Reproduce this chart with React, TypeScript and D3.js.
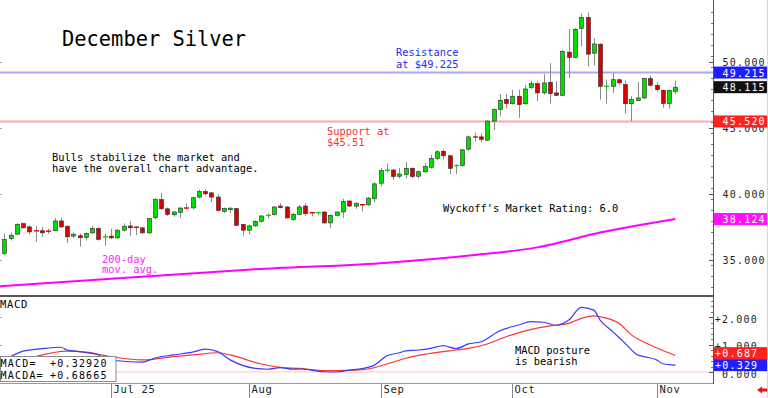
import { useEffect, useRef } from 'react'
import * as d3 from 'd3'

const W = 768
const H = 398
const PLOT_RIGHT = 713
const PRICE_BOTTOM = 296
const MACD_BOTTOM = 383
const FONT = '"DejaVu Sans Mono", monospace'

// daily bars, Jun 5 .. Nov 6 (108 trading days)
const opens = [
  35.53, 36.65, 36.98, 37.78, 37.53, 37.25, 37.24, 37.22, 37.24, 37.98,
  37.58, 36.83, 36.86, 36.73, 37.08, 37.4, 36.73, 36.83, 36.7, 37.28,
  37.6, 37.52, 37.46, 37.08, 38.23, 39.6, 38.9, 38.45, 38.63, 38.97,
  38.97, 39.79, 40.21, 40.11, 39.79, 38.71, 38.83, 38.91, 37.71, 37.28,
  37.61, 37.96, 38.36, 38.46, 39.11, 39.04, 38.1, 38.48, 39.11, 38.62,
  38.6, 38.66, 37.83, 38.41, 38.66, 39.49, 39.1, 39.22, 39.2, 39.66,
  40.84, 41.77, 41.84, 41.37, 41.49, 41.97, 41.37, 41.71, 42.05, 42.72,
  43.25, 42.92, 42.12, 42.17, 43.42, 44.35, 44.35, 44.1, 45.55, 46.43,
  47.18, 46.86, 47.43, 46.86, 48.1, 48.38, 47.68, 48.48, 47.68, 47.5,
  50.77, 50.36, 52.57, 53.4, 50.69, 51.37, 48.14, 48.18, 48.68, 48.31,
  46.86, 47.1, 47.3, 48.76, 48.26, 47.88, 46.88, 47.8,
]
const highs = [
  37.03, 37.1, 37.8, 37.8, 37.65, 37.6, 37.53, 37.4, 38.2, 38.2,
  37.65, 37.1, 37.03, 37.1, 37.6, 37.5, 37.03, 37.4, 37.35, 37.8,
  37.95, 37.6, 37.5, 38.2, 39.7, 40.1, 39.0, 38.7, 39.0, 39.3,
  39.8, 40.35, 40.41, 40.16, 40.0, 39.0, 39.03, 38.97, 37.76, 37.7,
  38.03, 38.4, 38.54, 39.1, 39.33, 39.1, 38.6, 39.2, 39.3, 38.66,
  38.66, 38.7, 38.46, 38.7, 39.66, 39.55, 39.4, 39.27, 39.8, 40.92,
  42.0, 42.35, 41.9, 42.0, 42.45, 42.04, 41.8, 42.35, 43.0, 43.35,
  43.4, 42.98, 42.3, 43.4, 44.45, 44.67, 44.6, 45.6, 46.5, 47.6,
  47.6, 47.9, 47.93, 48.3, 48.6, 48.56, 49.1, 49.94, 48.57, 50.94,
  52.52, 52.6, 53.7, 53.77, 51.82, 51.44, 48.68, 49.19, 48.76, 48.61,
  47.43, 48.5, 48.8, 49.0, 48.5, 47.93, 47.93, 48.6,
]
const lows = [
  35.4, 36.5, 36.9, 37.4, 36.98, 36.4, 36.78, 37.0, 37.2, 37.45,
  36.33, 36.7, 36.03, 36.5, 36.98, 36.5, 36.1, 36.6, 36.6, 37.2,
  36.83, 36.9, 37.0, 37.0, 38.1, 38.83, 38.35, 38.3, 38.23, 38.85,
  38.85, 39.7, 39.9, 39.41, 38.7, 38.6, 38.57, 37.58, 36.86, 36.96,
  37.5, 37.85, 38.16, 38.4, 38.93, 38.16, 38.0, 38.4, 38.35, 38.33,
  38.4, 37.78, 37.46, 38.33, 38.21, 39.03, 38.9, 38.7, 39.15, 39.41,
  40.6, 41.67, 41.1, 41.2, 41.2, 41.2, 41.2, 41.6, 41.95, 42.57,
  42.65, 41.54, 41.54, 42.1, 43.3, 44.0, 43.95, 44.05, 44.85, 45.92,
  46.5, 46.8, 45.8, 46.8, 48.0, 47.05, 47.55, 46.88, 47.45, 47.43,
  48.81, 50.3, 51.19, 49.68, 49.76, 47.18, 46.86, 47.68, 48.3, 46.1,
  45.55, 47.05, 47.18, 48.18, 47.76, 46.56, 46.5, 47.6,
]
const closes = [
  36.58, 36.9, 37.73, 37.46, 37.15, 37.22, 37.08, 37.2, 37.98, 37.53,
  36.78, 36.98, 36.71, 37.03, 37.4, 36.58, 36.83, 36.7, 37.28, 37.58,
  37.46, 37.48, 37.08, 38.16, 39.6, 38.9, 38.48, 38.66, 38.96, 38.95,
  39.74, 40.21, 40.04, 39.79, 38.78, 38.91, 38.95, 37.65, 37.28, 37.61,
  37.95, 38.36, 38.46, 39.04, 38.99, 38.21, 38.48, 39.04, 38.53, 38.6,
  38.62, 37.83, 38.41, 38.66, 39.46, 39.11, 39.3, 39.2, 39.71, 40.79,
  41.79, 41.87, 41.34, 41.54, 41.97, 41.34, 41.71, 42.12, 42.72, 43.22,
  42.92, 41.97, 42.22, 43.37, 44.35, 44.33, 44.17, 45.55, 46.43, 47.13,
  46.88, 47.43, 46.8, 47.98, 48.38, 47.68, 48.44, 47.63, 47.5, 50.81,
  50.36, 52.5, 53.4, 50.62, 51.39, 48.18, 48.23, 48.68, 48.44, 46.86,
  47.18, 47.3, 48.76, 48.26, 47.93, 46.88, 47.88, 48.115,
]

// 200-day moving average (bar index, value)
const maIdx = [-1, 20, 40, 60, 75, 85, 95, 107]
const maVals = [33.03, 33.69, 34.32, 34.78, 35.4, 35.98, 37.1, 38.124]

// MACD (blue) and MACD average (red)
const macdIdx = [1, 3, 6, 9, 10, 12, 15, 16, 18, 22, 24, 27, 30, 32, 34, 36, 40, 42, 44, 46, 47, 51, 53, 55, 57, 59, 61, 63, 64, 66, 68, 70, 72, 74, 76, 79, 82, 84, 86, 88, 90, 92, 94, 95, 97, 99, 101, 102, 104, 105, 107]
const macdVals = [0.56, 0.76, 0.85, 0.9, 0.8, 0.74, 0.62, 0.49, 0.41, 0.36, 0.51, 0.62, 0.72, 0.83, 0.74, 0.44, 0.13, 0.1, 0.16, 0.1, 0.11, 0.01, 0.0, 0.07, 0.12, 0.25, 0.59, 0.7, 0.77, 0.8, 0.86, 0.96, 0.85, 1.02, 1.1, 1.5, 1.71, 1.83, 1.81, 1.7, 1.89, 2.35, 2.25, 1.89, 1.47, 1.04, 0.62, 0.56, 0.44, 0.3, 0.25]
const signalIdx = [5, 10, 13, 17, 22, 27, 30, 34, 36, 41, 44, 47, 51, 55, 58, 61, 64, 67, 71, 74, 77, 80, 84, 87, 90, 92, 94, 95, 98, 100, 103, 107]
const signalVals = [0.56, 0.76, 0.72, 0.56, 0.44, 0.56, 0.62, 0.7, 0.62, 0.29, 0.17, 0.13, 0.05, 0.06, 0.11, 0.29, 0.5, 0.64, 0.77, 0.86, 1.02, 1.28, 1.55, 1.68, 1.77, 1.95, 2.04, 2.01, 1.77, 1.35, 0.98, 0.6]

const monthTickIdx = [17, 39, 60, 81, 104]
const monthTickLabels = ['Jul 25', 'Aug', 'Sep', 'Oct', 'Nov']

const priceTicks = [35, 40, 45, 50]
const priceTickLabels = ['35.000', '40.000', '45.000', '50.000']
const macdTicks = [0, 1, 2]
const macdTickLabels = ['0.000', '+1.000', '+2.000']

const RESISTANCE = 49.225
const SUPPORT = 45.52
const priceTagVals = [49.225, 48.115, 45.52, 38.124]
const priceTagLabels = ['49.215', '48.115', '45.520', '38.124']
const priceTagColors = ['#1c1cff', '#111111', '#ff2020', '#ff10ff']

const MACD_LAST = 0.32920
const MACDA_LAST = 0.68665

export default function App() {
  const svgRef = useRef<SVGSVGElement>(null)

  useEffect(() => {
    const svgEl = svgRef.current
    if (!svgEl) return
    const svg = d3.select(svgEl)
    svg.selectAll('*').remove()

    const x = d3.scaleLinear([-0.7, 113], [0, PLOT_RIGHT])
    const y = d3.scaleLinear([32.295, 54.72], [PRICE_BOTTOM, 0])
    const ym = d3.scaleLinear([0, 2], [372, 317])

    const text = (s: string, tx: number, ty: number, size: number, color: string, ls = 0) =>
      svg.append('text')
        .attr('x', tx).attr('y', ty)
        .attr('font-family', FONT).attr('font-size', size)
        .attr('letter-spacing', ls).attr('fill', color)
        .attr('xml:space', 'preserve')
        .text(s)

    svg.append('rect').attr('width', W).attr('height', H).attr('fill', '#fff')

    // ── Resistance / support ───────────────────────────────────────────────
    svg.append('line')
      .attr('x1', 0).attr('x2', PLOT_RIGHT).attr('y1', y(RESISTANCE)).attr('y2', y(RESISTANCE))
      .attr('stroke', '#a8a8ff').attr('stroke-width', 2)
    svg.append('line')
      .attr('x1', 0).attr('x2', PLOT_RIGHT).attr('y1', y(SUPPORT)).attr('y2', y(SUPPORT))
      .attr('stroke', '#ffa8a8').attr('stroke-width', 2)

    // ── 200-day MA ─────────────────────────────────────────────────────────
    svg.append('path')
      .datum(maIdx.map((i, k) => [i, maVals[k]] as [number, number]))
      .attr('d', d3.line<[number, number]>().x(d => x(d[0])).y(d => y(d[1])).curve(d3.curveMonotoneX))
      .attr('fill', 'none').attr('stroke', '#ff00ff').attr('stroke-width', 2)

    // ── Candles ────────────────────────────────────────────────────────────
    const gC = svg.append('g')
    opens.forEach((o, i) => {
      const c = closes[i]
      const cx = Math.round(x(i)) + 0.5
      gC.append('line')
        .attr('x1', cx).attr('x2', cx).attr('y1', y(highs[i])).attr('y2', y(lows[i]))
        .attr('stroke', '#8a8a8a').attr('stroke-width', 1)
      const top = y(Math.max(o, c))
      const bot = y(Math.min(o, c))
      const fill = c >= o ? '#00dd00' : '#dd0000'
      if (bot - top < 1.5) {
        const my = (top + bot) / 2
        gC.append('line')
          .attr('x1', cx - 2.5).attr('x2', cx + 2.5).attr('y1', my).attr('y2', my)
          .attr('stroke', fill).attr('stroke-width', 1.4)
      } else {
        gC.append('rect')
          .attr('x', cx - 2).attr('y', top).attr('width', 4).attr('height', bot - top)
          .attr('fill', fill).attr('stroke', '#2a2a2a').attr('stroke-width', 0.6)
      }
    })

    // ── Price panel annotations ────────────────────────────────────────────
    text('December Silver', 62, 46, 20.4, '#000')
    text('Resistance', 396, 56, 10.4, '#2a2aee')
    text('at $49.225', 396, 67.5, 10.4, '#2a2aee')
    text('Support at', 327, 134.5, 10.4, '#ff3030')
    text('$45.51', 327, 146, 10.4, '#ff3030')
    text('Bulls stabilize the market and', 52, 160.5, 10.4, '#000')
    text('have the overall chart advantage.', 52, 172, 10.4, '#000')
    text("Wyckoff's Market Rating: 6.0", 443, 212, 10.4, '#000')
    text('200-day', 102, 262.5, 10.4, '#ff22ff')
    text('mov. avg.', 102, 272.5, 10.4, '#ff22ff')

    // ── MACD panel ─────────────────────────────────────────────────────────
    svg.append('line')
      .attr('x1', 0).attr('x2', PLOT_RIGHT).attr('y1', ym(0)).attr('y2', ym(0))
      .attr('stroke', '#ffc4c4').attr('stroke-width', 1)
    svg.append('path')
      .datum(signalIdx.map((i, k) => [i, signalVals[k]] as [number, number]))
      .attr('d', d3.line<[number, number]>().x(d => x(d[0])).y(d => ym(d[1])).curve(d3.curveMonotoneX))
      .attr('fill', 'none').attr('stroke', '#ff3333').attr('stroke-width', 1.2)
    svg.append('path')
      .datum(macdIdx.map((i, k) => [i, macdVals[k]] as [number, number]))
      .attr('d', d3.line<[number, number]>().x(d => x(d[0])).y(d => ym(d[1])).curve(d3.curveMonotoneX))
      .attr('fill', 'none').attr('stroke', '#3a3aff').attr('stroke-width', 1.2)

    text('MACD', 0, 308, 10.5, '#000', 0.7)
    text('MACD posture', 515, 354, 10.4, '#000')
    text('is bearish', 515, 364.5, 10.4, '#000')

    svg.append('rect')
      .attr('x', 0.5).attr('y', 356.5).attr('width', 115.5).attr('height', 25)
      .attr('fill', '#fff').attr('stroke', '#8a8a8a')
    text('MACD=', 0.5, 366.5, 10, '#000', 1.2)
    text(`+${MACD_LAST.toFixed(5)}`, 50, 366.5, 10, '#000', 1.2)
    text('MACDA=', 0.5, 378.5, 10, '#000', 1.2)
    text(`+${MACDA_LAST.toFixed(5)}`, 50, 378.5, 10, '#000', 1.2)

    // ── Frame ──────────────────────────────────────────────────────────────
    svg.append('line')
      .attr('x1', 0).attr('x2', PLOT_RIGHT).attr('y1', PRICE_BOTTOM).attr('y2', PRICE_BOTTOM)
      .attr('stroke', '#555').attr('stroke-width', 2)
    svg.append('line')
      .attr('x1', 0).attr('x2', PLOT_RIGHT + 0.5).attr('y1', MACD_BOTTOM + 0.5).attr('y2', MACD_BOTTOM + 0.5)
      .attr('stroke', '#999')
    svg.append('line')
      .attr('x1', PLOT_RIGHT + 0.5).attr('x2', PLOT_RIGHT + 0.5).attr('y1', 0).attr('y2', MACD_BOTTOM + 1)
      .attr('stroke', '#555')
    svg.append('line')
      .attr('x1', W - 0.5).attr('x2', W - 0.5).attr('y1', 0).attr('y2', H)
      .attr('stroke', '#d8d8d8')

    // price axis ticks
    d3.range(33, 54.5, 5 / 6).forEach(v => {
      const ty = Math.round(y(v)) + 0.5
      svg.append('line').attr('x1', PLOT_RIGHT - 2).attr('x2', PLOT_RIGHT).attr('y1', ty).attr('y2', ty).attr('stroke', '#777')
    })
    priceTicks.forEach((v, k) => {
      const ty = Math.round(y(v)) + 0.5
      svg.append('line').attr('x1', PLOT_RIGHT - 4).attr('x2', PLOT_RIGHT).attr('y1', ty).attr('y2', ty).attr('stroke', '#555')
      svg.append('line').attr('x1', 0).attr('x2', 2).attr('y1', ty).attr('y2', ty).attr('stroke', '#aaa')
      text(priceTickLabels[k], 722.5, y(v) + 4, 10, '#222', 1.2)
    })
    // macd axis ticks
    d3.range(0, 2.61, 0.2).forEach(v => {
      const ty = Math.round(ym(v)) + 0.5
      if (ty < PRICE_BOTTOM + 2) return
      svg.append('line').attr('x1', PLOT_RIGHT - 2).attr('x2', PLOT_RIGHT).attr('y1', ty).attr('y2', ty).attr('stroke', '#777')
    })
    macdTicks.forEach((v, k) => {
      const ty = Math.round(ym(v)) + 0.5
      svg.append('line').attr('x1', PLOT_RIGHT - 4).attr('x2', PLOT_RIGHT).attr('y1', ty).attr('y2', ty).attr('stroke', '#555')
      svg.append('line').attr('x1', 0).attr('x2', 2).attr('y1', ty).attr('y2', ty).attr('stroke', '#aaa')
      const lbl = macdTickLabels[k]
      text(lbl, 758 - lbl.length * 7.22, ym(v) + 5.6, 10, '#222', 1.2)
    })

    // price tags
    priceTagVals.forEach((v, k) => {
      const cy = y(v)
      svg.append('rect')
        .attr('x', PLOT_RIGHT + 1).attr('y', cy - 6).attr('width', W - PLOT_RIGHT - 2).attr('height', 12)
        .attr('fill', priceTagColors[k])
      text(priceTagLabels[k], 722.5, cy + 4, 10, '#fff', 1.2)
    })

    // macd tags
    const redY = ym(MACDA_LAST)
    const blueY = Math.max(ym(MACD_LAST), redY + 12)
    ;[[redY, '#ff2020', MACDA_LAST], [blueY, '#2020ff', MACD_LAST]].forEach(([cy, col, v]) => {
      svg.append('rect')
        .attr('x', PLOT_RIGHT + 1).attr('y', (cy as number) - 6).attr('width', W - PLOT_RIGHT - 2).attr('height', 12)
        .attr('fill', col as string)
      text(`+${(v as number).toFixed(3)}`, 715, (cy as number) + 4, 10, '#fff', 1.2)
    })

    // month ticks
    monthTickIdx.forEach((i, k) => {
      const tx = Math.round(x(i)) + 0.5
      svg.append('line').attr('x1', tx).attr('x2', tx).attr('y1', MACD_BOTTOM).attr('y2', H).attr('stroke', '#888')
      text(monthTickLabels[k], tx + 2, 393, 10.5, '#222', 0.7)
    })

    // little red arrow, bottom right
    svg.append('path')
      .attr('d', 'M757,390 L762,386.5 L762,388.5 L767,388.5 L767,391.5 L762,391.5 L762,393.5 Z')
      .attr('fill', '#ee1111')
  }, [])

  return (
    <svg
      ref={svgRef}
      width={W}
      height={H}
      style={{ position: 'absolute', left: 0, top: 0, display: 'block' }}
    />
  )
}
